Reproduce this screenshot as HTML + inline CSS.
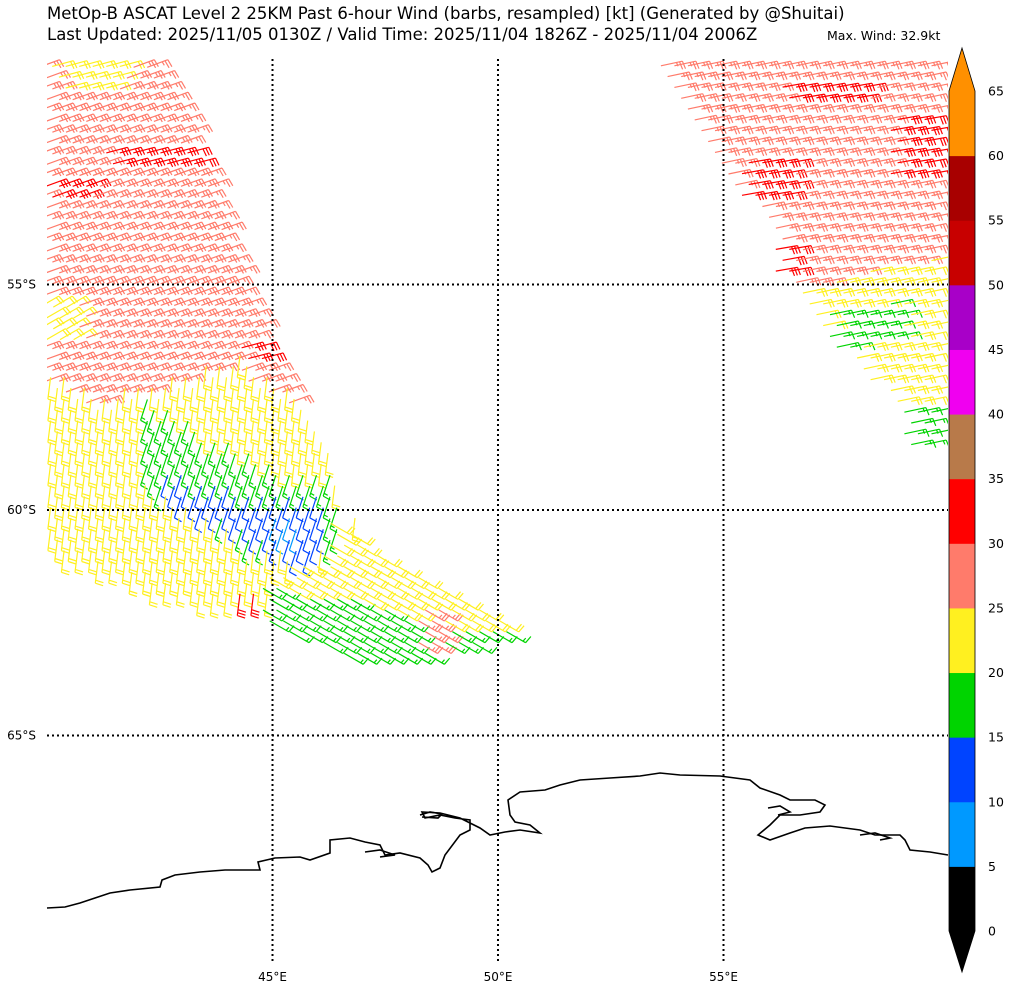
<!DOCTYPE html>
<html><head><meta charset="utf-8">
<style>
body{margin:0;background:#fff;width:1009px;height:989px;overflow:hidden;font-family:"Liberation Sans","DejaVu Sans",sans-serif;}
svg text{font-family:"DejaVu Sans","Liberation Sans",sans-serif;}
</style></head>
<body>
<svg id="chart" width="1009" height="989" viewBox="0 0 1009 989" xmlns="http://www.w3.org/2000/svg">
<defs><clipPath id="mapclip"><rect x="47" y="59" width="901" height="903"/></clipPath></defs>
<text x="47" y="19" font-size="16.5" fill="#000">MetOp-B ASCAT Level 2 25KM Past 6-hour Wind (barbs, resampled) [kt] (Generated by @Shuitai)</text>
<text x="47" y="40" font-size="16.5" fill="#000">Last Updated: 2025/11/05 0130Z / Valid Time: 2025/11/04 1826Z - 2025/11/04 2006Z</text>
<text x="827" y="40" font-size="12.5" fill="#000">Max. Wind: 32.9kt</text>
<g id="barbs" clip-path="url(#mapclip)"></g>
<g id="grid"></g>
<g id="coast"></g>
<g id="cbar"></g>
<g id="labels"></g>
</svg>
<script>
// Map extent: lon 40..60E, lat 50..70S
const lonTicks = [45, 50, 55];
const latTicks = [55, 60, 65];
const cbBounds = [0, 5, 10, 15, 20, 25, 30, 35, 40, 45, 50, 55, 60, 65];
const cbColors = ['#000000','#0099ff','#0044ff','#00d400','#fff020','#ff7b6b','#ff0000','#b87a4a','#f000f0','#a800c8','#c80000','#a80000','#ff9000'];
// wind regions (lon E, lat S), speeds (kt), staff angle (deg) and barb side
const regionPolys = [
 [[40,50],[42.62,50],[43.39,51.57],[44.17,53.79],[45.06,56.45],[45.61,57.56],[46.05,58.45],[46.39,59.45],[46.39,60.0],[47.38,60.89],[50.6,62.7],[50.38,62.88],[48.71,63.33],[46.72,63.33],[44.94,62.44],[44.5,62.22],[43.39,62.11],[42.28,61.88],[41.18,61.44],[40,61.11]],
 [[40,57.1],[41.18,57.6],[42.28,57.4],[43.39,57.0],[44.28,56.8],[45.39,57.56],[46.05,58.45],[46.39,59.45],[46.39,60.0],[47.38,60.89],[50.6,62.7],[50.38,62.88],[48.71,63.33],[46.72,63.33],[44.94,62.44],[44.5,62.22],[43.39,62.11],[42.28,61.88],[41.18,61.44],[40,61.11]],
 [[40.2,50],[41.9,50],[41.7,50.7],[40.6,50.7]],
 [[40,55.34],[40.8,55.34],[40.8,56.23],[40,56.23]],
 [[41.51,51.8],[43.5,51.8],[43.5,52.46],[41.51,52.46]],
 [[40.18,52.68],[41.18,52.68],[41.18,53.13],[40.18,53.13]],
 [[44.5,56.23],[45.06,56.23],[45.06,56.67],[44.5,56.67]],
 [[44.17,61.88],[44.55,61.88],[44.55,62.22],[44.17,62.22]],
 [[42.06,57.56],[43.39,58.45],[44.28,58.89],[45.39,59.33],[46.27,59.45],[46.39,60.22],[47.38,61.0],[45.61,61.11],[44.5,61.0],[43.72,60.44],[42.84,60.0],[42.17,59.67],[42.06,58.89]],
 [[42.51,59.11],[43.39,59.56],[44.72,59.78],[46.05,59.89],[46.16,61.11],[45.61,61.22],[44.5,60.78],[43.72,60.33],[42.84,60.0],[42.51,59.67]],
 [[44.94,60.22],[45.5,60.22],[45.5,60.78],[44.94,60.78]],
 [[46.39,60.3],[47.38,60.89],[50.6,62.7],[50.38,62.88],[48.71,63.33],[46.72,63.33],[44.94,62.44],[44.83,61.77],[45.61,61.3],[46.3,61.2]],
 [[44.83,61.77],[46.72,62.0],[48.94,62.66],[50.6,62.7],[50.38,62.88],[48.71,63.33],[46.72,63.33],[44.94,62.55]],
 [[48.38,62.2],[49.04,62.2],[49.04,63.1],[48.38,63.1]],
 [[53.59,50],[59.98,50],[59.98,58.56],[59.8,58.56],[58.91,57.56],[57.8,56.45],[56.92,55.12],[55.81,53.13],[54.92,52.02],[54.26,51.13]],
 [[56.92,55.12],[57.8,54.79],[59.98,54.35],[59.98,58.56],[59.8,58.56],[58.91,57.56],[57.8,56.45]],
 [[57.47,55.57],[59.13,55.35],[59.13,56.23],[57.47,56.45]],
 [[59.24,57.56],[59.98,57.56],[59.98,58.56],[59.24,58.56]],
 [[56.48,50.35],[58.47,50.35],[58.47,51.02],[56.48,51.02]],
 [[58.91,51.13],[59.98,51.13],[59.98,52.68],[58.91,52.68]],
 [[55.59,52.24],[56.7,52.24],[56.7,53.02],[55.59,53.02]],
 [[56.36,54.12],[56.7,54.12],[56.7,54.79],[56.36,54.79]]
];
const regionSpeeds = [27, 22, 21, 22, 32, 32, 32, 32, 17, 12, 8, 22, 17, 27, 27, 22, 17, 17, 31, 31, 31, 31];
const regionAngles = [-20, 97, -15, -30, -15, -20, -15, 97, 108, 108, 108, 30, 30, 30, -12, -12, -12, -12, -10, -10, -10, -10];
const regionSide = [1, -1, 1, 1, 1, 1, 1, -1, -1, -1, -1, -1, -1, -1, 1, 1, 1, 1, 1, 1, 1, 1];

const X0 = 47, Y0 = 59, PPD = 45.1;
const xOf = lon => X0 + (lon - 40) * PPD;
const yOf = lat => Y0 + (lat - 50) * PPD;
const NS = 'http://www.w3.org/2000/svg';
function mk(tag, attrs, parent){const e=document.createElementNS(NS,tag);for(const k in attrs)e.setAttribute(k,attrs[k]);parent.appendChild(e);return e;}
function colorOf(s){for(let i=cbBounds.length-1;i>=0;i--){if(s>=cbBounds[i])return cbColors[Math.min(i,cbColors.length-1)];}return cbColors[0];}
function inPoly(p, poly){let c=false;for(let i=0,j=poly.length-1;i<poly.length;j=i++){const a=poly[i],b=poly[j];if(((a[1]>p[1])!==(b[1]>p[1]))&&(p[0]<(b[0]-a[0])*(p[1]-a[1])/(b[1]-a[1])+a[0]))c=!c;}return c;}

const barbG = document.getElementById('barbs');
const latStep = 0.24, lonStep = 0.3;
let row = 0;
for (let lat = 50.1; lat < 63.5; lat += latStep, row++) {
  const off = (row % 2) * lonStep / 2;
  for (let lon = 40.05 + off; lon < 60; lon += lonStep) {
    let idx = -1;
    for (let r = 0; r < regionPolys.length; r++) if (inPoly([lon, lat], regionPolys[r])) idx = r;
    if (idx < 0) continue;
    const spd = regionSpeeds[idx], col = colorOf(spd);
    const a = regionAngles[idx] * Math.PI / 180, side = regionSide[idx];
    const ux = Math.cos(a), uy = Math.sin(a);
    const nx = -uy * side, ny = ux * side;
    const L = 22;
    const cx = xOf(lon), cy = yOf(lat);
    const ax = cx - ux * L / 2, ay = cy - uy * L / 2;
    const tx = ax + ux * L, ty = ay + uy * L;
    let d = `M${ax.toFixed(1)},${ay.toFixed(1)}L${tx.toFixed(1)},${ty.toFixed(1)}`;
    let rem = Math.round(spd / 5) * 5, pos = 0;
    while (rem >= 10) { const px = tx - ux * pos, py = ty - uy * pos; d += `M${px.toFixed(1)},${py.toFixed(1)}l${(nx*8+ux*1.5).toFixed(1)},${(ny*8+uy*1.5).toFixed(1)}`; rem -= 10; pos += 3; }
    if (rem >= 5) { if (pos === 0) pos = 3; const px = tx - ux * pos, py = ty - uy * pos; d += `M${px.toFixed(1)},${py.toFixed(1)}l${(nx*4+ux*0.8).toFixed(1)},${(ny*4+uy*0.8).toFixed(1)}`; }
    const el = mk('path', {d: d, stroke: col, 'stroke-width': 1.2, fill: 'none'}, barbG);
    
    
  }
}

// graticule
const gridG = document.getElementById('grid');
const labG = document.getElementById('labels');
lonTicks.forEach(lon => {
  const x = xOf(lon);
  const l = mk('line', {x1: x, y1: Y0, x2: x, y2: 962, stroke: '#000', 'stroke-width': 2, 'stroke-dasharray': '2,3'}, gridG);
  
  
  const t = mk('text', {x: x, y: 981, 'font-size': 12, 'text-anchor': 'middle'}, labG);
  t.textContent = lon + '°E';
  
  
});
latTicks.forEach(lat => {
  const y = yOf(lat);
  const l = mk('line', {x1: X0, y1: y, x2: 948, y2: y, stroke: '#000', 'stroke-width': 2, 'stroke-dasharray': '2,3'}, gridG);
  
  
  const t = mk('text', {x: 36, y: y + 4, 'font-size': 12, 'text-anchor': 'end'}, labG);
  t.textContent = lat + '°S';
  
  
});

// coastline
const coastG = document.getElementById('coast');
const coastLines = [
 "47,908 65,907 80,903 95,898 110,893 130,890 160,887 162,880 175,875 200,872 225,870 260,870 258,862 275,858 300,857 310,860 330,853 330,840 350,838 365,842 380,845 385,855 400,853 420,858 428,865 432,872 440,868 445,855 460,835 470,830 470,820 455,818 440,815 425,818 422,812 440,813 460,818 468,822 480,828 490,835 505,832 520,830 540,833 530,825 515,822 510,815 508,800 520,792 545,790 560,785 580,780 610,778 640,776 660,773 680,775 720,776 750,780 760,788 780,795 790,800 815,800 825,805 820,812 800,815 780,815 770,825 758,835 770,840 790,833 805,828 830,826 860,830 875,835 900,835 905,840 910,850 930,852 948,855",
 "420,815 430,812 442,814 438,818 422,817",
 "768,808 780,806 790,812 778,815",
 "365,852 380,850 395,855 380,857",
 "860,835 875,833 890,838 880,840"
];
coastLines.forEach(pts => {
  const p = mk('polyline', {points: pts, fill: 'none', stroke: '#000', 'stroke-width': 1.6}, coastG);
  
  
});

// colorbar
const cbG = document.getElementById('cbar');
const cbX = 949, cbW = 26, cbTop = 91, cbBot = 931;
const segH = (cbBot - cbTop) / (cbBounds.length - 1);
const yCb = v => cbBot - (v / 5) * segH;
for (let i = 0; i < cbColors.length; i++) {
  const r = mk('rect', {x: cbX, y: yCb(cbBounds[i+1]), width: cbW, height: segH + 0.5, fill: cbColors[i]}, cbG);
  
  
}
const up = mk('polygon', {points: `${cbX},${cbTop} ${cbX+cbW},${cbTop} ${cbX+cbW/2},48`, fill: '#ff9000'}, cbG);


const dn = mk('polygon', {points: `${cbX},${cbBot} ${cbX+cbW},${cbBot} ${cbX+cbW/2},972`, fill: '#000'}, cbG);


const ol = mk('polygon', {points: `${cbX+cbW/2},48 ${cbX+cbW},${cbTop} ${cbX+cbW},${cbBot} ${cbX+cbW/2},972 ${cbX},${cbBot} ${cbX},${cbTop}`, fill: 'none', stroke: '#000', 'stroke-width': 0.8}, cbG);


cbBounds.forEach(v => {
  const t = mk('text', {x: 988, y: yCb(v) + 4.5, 'font-size': 12.5}, cbG);
  t.textContent = v;
  
  
});
</script>
</body></html>
